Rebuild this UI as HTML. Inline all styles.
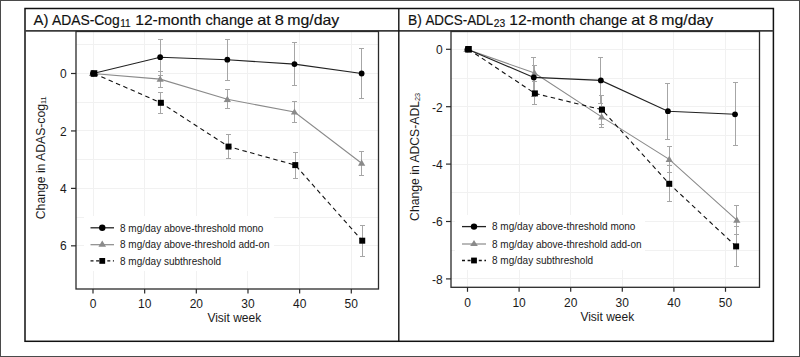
<!DOCTYPE html><html><head><meta charset="utf-8"><style>html,body{margin:0;padding:0;background:#fff;overflow:hidden;width:800px;height:357px;}svg{display:block;font-family:"Liberation Sans",sans-serif;}</style></head><body>
<svg width="800" height="357" viewBox="0 0 800 357">
<rect x="0" y="0" width="800" height="357" fill="#fff"/>
<rect x="0.5" y="0.5" width="799" height="356" fill="none" stroke="#4a4a4a" stroke-width="1"/>
<g stroke="#111" fill="none">
<rect x="25" y="8.5" width="748.4" height="332.8" stroke-width="1.5"/>
<line x1="25" x2="773.4" y1="30.9" y2="30.9" stroke-width="1.6" stroke="#3c3c3c"/>
<line x1="398.8" x2="398.8" y1="8.5" y2="341.3" stroke-width="1.4"/>
</g>
<g stroke="#f1f1f1" stroke-width="1">
<line x1="76" x2="378.5" y1="44.50" y2="44.50"/>
<line x1="76" x2="378.5" y1="73.50" y2="73.50"/>
<line x1="76" x2="378.5" y1="102.50" y2="102.50"/>
<line x1="76" x2="378.5" y1="130.50" y2="130.50"/>
<line x1="76" x2="378.5" y1="159.50" y2="159.50"/>
<line x1="76" x2="378.5" y1="188.50" y2="188.50"/>
<line x1="76" x2="378.5" y1="217.50" y2="217.50"/>
<line x1="76" x2="378.5" y1="245.50" y2="245.50"/>
<line x1="93.50" x2="93.50" y1="31.5" y2="289"/>
<line x1="144.50" x2="144.50" y1="31.5" y2="289"/>
<line x1="196.50" x2="196.50" y1="31.5" y2="289"/>
<line x1="247.50" x2="247.50" y1="31.5" y2="289"/>
<line x1="299.50" x2="299.50" y1="31.5" y2="289"/>
<line x1="351.50" x2="351.50" y1="31.5" y2="289"/>
</g>
<rect x="84" y="216" width="190" height="55" fill="#fff"/>
<g stroke="#a6a6a6" stroke-width="1" fill="none">
<line x1="160.50" x2="160.50" y1="71.50" y2="87.50"/>
<line x1="158.00" x2="163.00" y1="71.50" y2="71.50"/>
<line x1="158.00" x2="163.00" y1="87.50" y2="87.50"/>
<line x1="227.50" x2="227.50" y1="89.50" y2="108.50"/>
<line x1="225.00" x2="230.00" y1="89.50" y2="89.50"/>
<line x1="225.00" x2="230.00" y1="108.50" y2="108.50"/>
<line x1="294.50" x2="294.50" y1="101.50" y2="122.50"/>
<line x1="292.00" x2="297.00" y1="101.50" y2="101.50"/>
<line x1="292.00" x2="297.00" y1="122.50" y2="122.50"/>
<line x1="361.50" x2="361.50" y1="151.50" y2="175.50"/>
<line x1="359.00" x2="364.00" y1="151.50" y2="151.50"/>
<line x1="359.00" x2="364.00" y1="175.50" y2="175.50"/>
</g>
<g stroke="#a6a6a6" stroke-width="1" fill="none">
<line x1="160.50" x2="160.50" y1="39.50" y2="75.50"/>
<line x1="158.00" x2="163.00" y1="39.50" y2="39.50"/>
<line x1="158.00" x2="163.00" y1="75.50" y2="75.50"/>
<line x1="227.50" x2="227.50" y1="39.50" y2="80.50"/>
<line x1="225.00" x2="230.00" y1="39.50" y2="39.50"/>
<line x1="225.00" x2="230.00" y1="80.50" y2="80.50"/>
<line x1="294.50" x2="294.50" y1="42.50" y2="85.50"/>
<line x1="292.00" x2="297.00" y1="42.50" y2="42.50"/>
<line x1="292.00" x2="297.00" y1="85.50" y2="85.50"/>
<line x1="361.50" x2="361.50" y1="48.50" y2="98.50"/>
<line x1="359.00" x2="364.00" y1="48.50" y2="48.50"/>
<line x1="359.00" x2="364.00" y1="98.50" y2="98.50"/>
</g>
<g stroke="#a6a6a6" stroke-width="1" fill="none">
<line x1="160.50" x2="160.50" y1="92.50" y2="113.50"/>
<line x1="158.00" x2="163.00" y1="92.50" y2="92.50"/>
<line x1="158.00" x2="163.00" y1="113.50" y2="113.50"/>
<line x1="228.50" x2="228.50" y1="134.50" y2="158.50"/>
<line x1="226.00" x2="231.00" y1="134.50" y2="134.50"/>
<line x1="226.00" x2="231.00" y1="158.50" y2="158.50"/>
<line x1="295.50" x2="295.50" y1="152.50" y2="178.50"/>
<line x1="293.00" x2="298.00" y1="152.50" y2="152.50"/>
<line x1="293.00" x2="298.00" y1="178.50" y2="178.50"/>
<line x1="362.50" x2="362.50" y1="225.50" y2="256.50"/>
<line x1="360.00" x2="365.00" y1="225.50" y2="225.50"/>
<line x1="360.00" x2="365.00" y1="256.50" y2="256.50"/>
</g>
<polyline points="92.50,73.50 160.16,79.10 227.32,99.30 294.47,112.00 361.63,163.20" fill="none" stroke="#8a8a8a" stroke-width="1.1"/>
<polyline points="93.00,73.50 160.16,57.20 227.32,59.70 294.47,64.10 361.63,73.50" fill="none" stroke="#222" stroke-width="1.1"/>
<polyline points="94.00,73.50 160.86,102.80 228.52,146.60 295.27,165.10 362.23,240.70" fill="none" stroke="#111" stroke-width="1.1" stroke-dasharray="4.5,3.5"/>
<path d="M92.50,69.90 L96.10,76.10 L88.90,76.10 Z" fill="#8a8a8a"/>
<path d="M160.16,75.50 L163.76,81.70 L156.56,81.70 Z" fill="#8a8a8a"/>
<path d="M227.32,95.70 L230.92,101.90 L223.72,101.90 Z" fill="#8a8a8a"/>
<path d="M294.47,108.40 L298.07,114.60 L290.87,114.60 Z" fill="#8a8a8a"/>
<path d="M361.63,159.60 L365.23,165.80 L358.03,165.80 Z" fill="#8a8a8a"/>
<circle cx="93.00" cy="73.50" r="2.9" fill="#000"/>
<circle cx="160.16" cy="57.20" r="2.9" fill="#000"/>
<circle cx="227.32" cy="59.70" r="2.9" fill="#000"/>
<circle cx="294.47" cy="64.10" r="2.9" fill="#000"/>
<circle cx="361.63" cy="73.50" r="2.9" fill="#000"/>
<rect x="90.70" y="70.20" width="6.6" height="6.6" fill="#000"/>
<rect x="157.86" y="99.80" width="6.0" height="6.0" fill="#000"/>
<rect x="225.52" y="143.60" width="6.0" height="6.0" fill="#000"/>
<rect x="292.27" y="162.10" width="6.0" height="6.0" fill="#000"/>
<rect x="359.23" y="237.70" width="6.0" height="6.0" fill="#000"/>
<line x1="90.5" x2="114" y1="227.8" y2="227.8" stroke="#222" stroke-width="1.3"/>
<circle cx="102.25" cy="227.8" r="3.2" fill="#000"/>
<line x1="90.5" x2="114" y1="244.7" y2="244.7" stroke="#8a8a8a" stroke-width="1.2"/>
<path d="M102.25,240.60 L106.05,246.80 L98.45,246.80 Z" fill="#8a8a8a"/>
<line x1="90.5" x2="114" y1="260.9" y2="260.9" stroke="#111" stroke-width="1.3" stroke-dasharray="3,2.6"/>
<rect x="99.35" y="258.0" width="5.8" height="5.8" fill="#000"/>
<text x="120" y="231.50" font-size="10" fill="#1a1a1a">8 mg/day above-threshold mono</text>
<text x="120" y="248.40" font-size="10" fill="#1a1a1a">8 mg/day above-threshold add-on</text>
<text x="120" y="264.60" font-size="10" fill="#1a1a1a">8 mg/day subthreshold</text>
<rect x="76" y="31.5" width="302.5" height="257.5" fill="none" stroke="#2a2a2a" stroke-width="1.3"/>
<line x1="71" x2="76" y1="73.50" y2="73.50" stroke="#2a2a2a" stroke-width="1.2"/>
<text x="66.7" y="78.10" font-size="12" text-anchor="end" fill="#1a1a1a">0</text>
<line x1="71" x2="76" y1="130.94" y2="130.94" stroke="#2a2a2a" stroke-width="1.2"/>
<text x="66.7" y="135.54" font-size="12" text-anchor="end" fill="#1a1a1a">2</text>
<line x1="71" x2="76" y1="188.38" y2="188.38" stroke="#2a2a2a" stroke-width="1.2"/>
<text x="66.7" y="192.98" font-size="12" text-anchor="end" fill="#1a1a1a">4</text>
<line x1="71" x2="76" y1="245.82" y2="245.82" stroke="#2a2a2a" stroke-width="1.2"/>
<text x="66.7" y="250.42" font-size="12" text-anchor="end" fill="#1a1a1a">6</text>
<line x1="93.00" x2="93.00" y1="289" y2="293.5" stroke="#2a2a2a" stroke-width="1.2"/>
<text x="93.00" y="308.20" font-size="12" text-anchor="middle" fill="#1a1a1a">0</text>
<line x1="144.66" x2="144.66" y1="289" y2="293.5" stroke="#2a2a2a" stroke-width="1.2"/>
<text x="144.66" y="308.20" font-size="12" text-anchor="middle" fill="#1a1a1a">10</text>
<line x1="196.32" x2="196.32" y1="289" y2="293.5" stroke="#2a2a2a" stroke-width="1.2"/>
<text x="196.32" y="308.20" font-size="12" text-anchor="middle" fill="#1a1a1a">20</text>
<line x1="247.98" x2="247.98" y1="289" y2="293.5" stroke="#2a2a2a" stroke-width="1.2"/>
<text x="247.98" y="308.20" font-size="12" text-anchor="middle" fill="#1a1a1a">30</text>
<line x1="299.64" x2="299.64" y1="289" y2="293.5" stroke="#2a2a2a" stroke-width="1.2"/>
<text x="299.64" y="308.20" font-size="12" text-anchor="middle" fill="#1a1a1a">40</text>
<line x1="351.30" x2="351.30" y1="289" y2="293.5" stroke="#2a2a2a" stroke-width="1.2"/>
<text x="351.30" y="308.20" font-size="12" text-anchor="middle" fill="#1a1a1a">50</text>
<g stroke="#f1f1f1" stroke-width="1">
<line x1="451" x2="759.5" y1="278.50" y2="278.50"/>
<line x1="451" x2="759.5" y1="250.50" y2="250.50"/>
<line x1="451" x2="759.5" y1="221.50" y2="221.50"/>
<line x1="451" x2="759.5" y1="192.50" y2="192.50"/>
<line x1="451" x2="759.5" y1="164.50" y2="164.50"/>
<line x1="451" x2="759.5" y1="135.50" y2="135.50"/>
<line x1="451" x2="759.5" y1="106.50" y2="106.50"/>
<line x1="451" x2="759.5" y1="78.50" y2="78.50"/>
<line x1="451" x2="759.5" y1="49.50" y2="49.50"/>
<line x1="467.50" x2="467.50" y1="31.5" y2="287.3"/>
<line x1="519.50" x2="519.50" y1="31.5" y2="287.3"/>
<line x1="570.50" x2="570.50" y1="31.5" y2="287.3"/>
<line x1="622.50" x2="622.50" y1="31.5" y2="287.3"/>
<line x1="673.50" x2="673.50" y1="31.5" y2="287.3"/>
<line x1="725.50" x2="725.50" y1="31.5" y2="287.3"/>
</g>
<rect x="455" y="215" width="190" height="55" fill="#fff"/>
<g stroke="#a6a6a6" stroke-width="1" fill="none">
<line x1="534.50" x2="534.50" y1="65.50" y2="81.50"/>
<line x1="532.00" x2="537.00" y1="65.50" y2="65.50"/>
<line x1="532.00" x2="537.00" y1="81.50" y2="81.50"/>
<line x1="601.50" x2="601.50" y1="106.50" y2="127.50"/>
<line x1="599.00" x2="604.00" y1="106.50" y2="106.50"/>
<line x1="599.00" x2="604.00" y1="127.50" y2="127.50"/>
<line x1="669.50" x2="669.50" y1="146.50" y2="172.50"/>
<line x1="667.00" x2="672.00" y1="146.50" y2="146.50"/>
<line x1="667.00" x2="672.00" y1="172.50" y2="172.50"/>
<line x1="736.50" x2="736.50" y1="205.50" y2="234.50"/>
<line x1="734.00" x2="739.00" y1="205.50" y2="205.50"/>
<line x1="734.00" x2="739.00" y1="234.50" y2="234.50"/>
</g>
<g stroke="#a6a6a6" stroke-width="1" fill="none">
<line x1="533.50" x2="533.50" y1="57.50" y2="96.50"/>
<line x1="531.00" x2="536.00" y1="57.50" y2="57.50"/>
<line x1="531.00" x2="536.00" y1="96.50" y2="96.50"/>
<line x1="600.50" x2="600.50" y1="57.50" y2="103.50"/>
<line x1="598.00" x2="603.00" y1="57.50" y2="57.50"/>
<line x1="598.00" x2="603.00" y1="103.50" y2="103.50"/>
<line x1="667.50" x2="667.50" y1="83.50" y2="139.50"/>
<line x1="665.00" x2="670.00" y1="83.50" y2="83.50"/>
<line x1="665.00" x2="670.00" y1="139.50" y2="139.50"/>
<line x1="735.50" x2="735.50" y1="82.50" y2="145.50"/>
<line x1="733.00" x2="738.00" y1="82.50" y2="82.50"/>
<line x1="733.00" x2="738.00" y1="145.50" y2="145.50"/>
</g>
<g stroke="#a6a6a6" stroke-width="1" fill="none">
<line x1="534.50" x2="534.50" y1="81.50" y2="104.50"/>
<line x1="532.00" x2="537.00" y1="81.50" y2="81.50"/>
<line x1="532.00" x2="537.00" y1="104.50" y2="104.50"/>
<line x1="601.50" x2="601.50" y1="95.50" y2="124.50"/>
<line x1="599.00" x2="604.00" y1="95.50" y2="95.50"/>
<line x1="599.00" x2="604.00" y1="124.50" y2="124.50"/>
<line x1="669.50" x2="669.50" y1="165.50" y2="201.50"/>
<line x1="667.00" x2="672.00" y1="165.50" y2="165.50"/>
<line x1="667.00" x2="672.00" y1="201.50" y2="201.50"/>
<line x1="736.50" x2="736.50" y1="226.50" y2="266.50"/>
<line x1="734.00" x2="739.00" y1="226.50" y2="226.50"/>
<line x1="734.00" x2="739.00" y1="266.50" y2="266.50"/>
</g>
<polyline points="467.00,49.30 534.58,73.10 601.66,116.90 669.24,159.40 736.82,220.20" fill="none" stroke="#8a8a8a" stroke-width="1.1"/>
<polyline points="467.50,49.30 533.78,77.40 600.86,80.40 667.94,111.20 735.02,114.30" fill="none" stroke="#222" stroke-width="1.1"/>
<polyline points="468.50,49.30 534.88,93.40 601.96,109.70 669.24,183.80 736.12,246.40" fill="none" stroke="#111" stroke-width="1.1" stroke-dasharray="4.5,3.5"/>
<path d="M467.00,45.70 L470.60,51.90 L463.40,51.90 Z" fill="#8a8a8a"/>
<path d="M534.58,69.50 L538.18,75.70 L530.98,75.70 Z" fill="#8a8a8a"/>
<path d="M601.66,113.30 L605.26,119.50 L598.06,119.50 Z" fill="#8a8a8a"/>
<path d="M669.24,155.80 L672.84,162.00 L665.64,162.00 Z" fill="#8a8a8a"/>
<path d="M736.82,216.60 L740.42,222.80 L733.22,222.80 Z" fill="#8a8a8a"/>
<circle cx="467.50" cy="49.30" r="2.9" fill="#000"/>
<circle cx="533.78" cy="77.40" r="2.9" fill="#000"/>
<circle cx="600.86" cy="80.40" r="2.9" fill="#000"/>
<circle cx="667.94" cy="111.20" r="2.9" fill="#000"/>
<circle cx="735.02" cy="114.30" r="2.9" fill="#000"/>
<rect x="465.20" y="46.00" width="6.6" height="6.6" fill="#000"/>
<rect x="531.88" y="90.40" width="6.0" height="6.0" fill="#000"/>
<rect x="598.96" y="106.70" width="6.0" height="6.0" fill="#000"/>
<rect x="666.24" y="180.80" width="6.0" height="6.0" fill="#000"/>
<rect x="733.12" y="243.40" width="6.0" height="6.0" fill="#000"/>
<line x1="462" x2="486" y1="226.6" y2="226.6" stroke="#222" stroke-width="1.3"/>
<circle cx="474.0" cy="226.6" r="3.2" fill="#000"/>
<line x1="462" x2="486" y1="244.0" y2="244.0" stroke="#8a8a8a" stroke-width="1.2"/>
<path d="M474.00,239.90 L477.80,246.10 L470.20,246.10 Z" fill="#8a8a8a"/>
<line x1="462" x2="486" y1="260.5" y2="260.5" stroke="#111" stroke-width="1.3" stroke-dasharray="3,2.6"/>
<rect x="471.1" y="257.6" width="5.8" height="5.8" fill="#000"/>
<text x="492" y="230.30" font-size="10" fill="#1a1a1a">8 mg/day above-threshold mono</text>
<text x="492" y="247.70" font-size="10" fill="#1a1a1a">8 mg/day above-threshold add-on</text>
<text x="492" y="264.20" font-size="10" fill="#1a1a1a">8 mg/day subthreshold</text>
<rect x="451" y="31.5" width="308.5" height="255.8" fill="none" stroke="#2a2a2a" stroke-width="1.3"/>
<line x1="446" x2="451" y1="49.30" y2="49.30" stroke="#2a2a2a" stroke-width="1.2"/>
<text x="442.7" y="54.10" font-size="12" text-anchor="end" fill="#1a1a1a">0</text>
<line x1="446" x2="451" y1="106.70" y2="106.70" stroke="#2a2a2a" stroke-width="1.2"/>
<text x="442.7" y="111.50" font-size="12" text-anchor="end" fill="#1a1a1a">-2</text>
<line x1="446" x2="451" y1="164.10" y2="164.10" stroke="#2a2a2a" stroke-width="1.2"/>
<text x="442.7" y="168.90" font-size="12" text-anchor="end" fill="#1a1a1a">-4</text>
<line x1="446" x2="451" y1="221.50" y2="221.50" stroke="#2a2a2a" stroke-width="1.2"/>
<text x="442.7" y="226.30" font-size="12" text-anchor="end" fill="#1a1a1a">-6</text>
<line x1="446" x2="451" y1="278.90" y2="278.90" stroke="#2a2a2a" stroke-width="1.2"/>
<text x="442.7" y="283.70" font-size="12" text-anchor="end" fill="#1a1a1a">-8</text>
<line x1="467.50" x2="467.50" y1="287.3" y2="291.8" stroke="#2a2a2a" stroke-width="1.2"/>
<text x="467.50" y="306.70" font-size="12" text-anchor="middle" fill="#1a1a1a">0</text>
<line x1="519.10" x2="519.10" y1="287.3" y2="291.8" stroke="#2a2a2a" stroke-width="1.2"/>
<text x="519.10" y="306.70" font-size="12" text-anchor="middle" fill="#1a1a1a">10</text>
<line x1="570.70" x2="570.70" y1="287.3" y2="291.8" stroke="#2a2a2a" stroke-width="1.2"/>
<text x="570.70" y="306.70" font-size="12" text-anchor="middle" fill="#1a1a1a">20</text>
<line x1="622.30" x2="622.30" y1="287.3" y2="291.8" stroke="#2a2a2a" stroke-width="1.2"/>
<text x="622.30" y="306.70" font-size="12" text-anchor="middle" fill="#1a1a1a">30</text>
<line x1="673.90" x2="673.90" y1="287.3" y2="291.8" stroke="#2a2a2a" stroke-width="1.2"/>
<text x="673.90" y="306.70" font-size="12" text-anchor="middle" fill="#1a1a1a">40</text>
<line x1="725.50" x2="725.50" y1="287.3" y2="291.8" stroke="#2a2a2a" stroke-width="1.2"/>
<text x="725.50" y="306.70" font-size="12" text-anchor="middle" fill="#1a1a1a">50</text>
<g fill="#111" stroke="#111" stroke-width="0.15" font-size="14.5">
<text x="33.60" y="25" textLength="14.90" lengthAdjust="spacingAndGlyphs">A)</text>
<text x="408.00" y="25" textLength="13.80" lengthAdjust="spacingAndGlyphs">B)</text>
<text x="51.90" y="25" textLength="67.90" lengthAdjust="spacingAndGlyphs">ADAS-Cog</text>
<text x="425.40" y="25" textLength="67.90" lengthAdjust="spacingAndGlyphs">ADCS-ADL</text>
<text x="135.20" y="25" textLength="66.10" lengthAdjust="spacingAndGlyphs">12-month</text>
<text x="509.20" y="25" textLength="66.10" lengthAdjust="spacingAndGlyphs">12-month</text>
<text x="205.40" y="25" textLength="47.90" lengthAdjust="spacingAndGlyphs">change</text>
<text x="579.40" y="25" textLength="47.90" lengthAdjust="spacingAndGlyphs">change</text>
<text x="257.20" y="25" textLength="13.60" lengthAdjust="spacingAndGlyphs">at</text>
<text x="631.20" y="25" textLength="13.60" lengthAdjust="spacingAndGlyphs">at</text>
<text x="274.70" y="25" textLength="9.10" lengthAdjust="spacingAndGlyphs">8</text>
<text x="648.70" y="25" textLength="9.10" lengthAdjust="spacingAndGlyphs">8</text>
<text x="287.20" y="25" textLength="52.10" lengthAdjust="spacingAndGlyphs">mg/day</text>
<text x="661.20" y="25" textLength="52.10" lengthAdjust="spacingAndGlyphs">mg/day</text>
<text x="120.3" y="26.8" font-size="10.5" textLength="10.4" lengthAdjust="spacingAndGlyphs">11</text>
<text x="493.8" y="26.8" font-size="10.5" textLength="11.4" lengthAdjust="spacingAndGlyphs">23</text>
</g>
<g fill="#1a1a1a" font-size="12.2">
<text transform="translate(45.2,219.2) rotate(-90)">Change in ADAS-cog<tspan font-size="7.3" dy="0.8">11</tspan></text>
<text transform="translate(418.9,220.9) rotate(-90)">Change in ADCS-ADL<tspan font-size="7.3" dy="0.8">23</tspan></text>
</g>
<text x="234.3" y="322" font-size="12" text-anchor="middle" fill="#1a1a1a">Visit week</text>
<text x="607.3" y="320.5" font-size="12" text-anchor="middle" fill="#1a1a1a">Visit week</text>
</svg></body></html>
